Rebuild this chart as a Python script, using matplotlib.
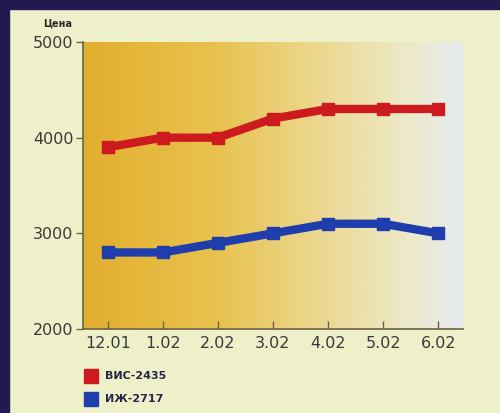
import numpy as np
import matplotlib
matplotlib.use("Agg")
import matplotlib.pyplot as plt
from matplotlib.colors import LinearSegmentedColormap
from matplotlib.patches import Rectangle

# данные: цена по месяцам
months = ["12.01", "1.02", "2.02", "3.02", "4.02", "5.02", "6.02"]
vis_2435 = [3900, 4000, 4000, 4200, 4300, 4300, 4300]
izh_2717 = [2800, 2800, 2900, 3000, 3100, 3100, 3000]
series_names = ["ВИС-2435", "ИЖ-2717"]

RED = "#cc1a1e"
BLUE = "#1f3dac"
NAVY = "#21194f"
PANEL = "#eef0c9"
TEXT = "#3a3a3a"

plt.rcParams["font.family"] = ["DejaVu Sans"]

fig = plt.figure(figsize=(5.0, 4.13), dpi=100)
fig.patch.set_facecolor(PANEL)

# тёмная рамка сверху и слева
fig.add_artist(Rectangle((0, 1 - 9 / 413), 1, 9 / 413, transform=fig.transFigure,
                         color=NAVY, zorder=0))
fig.add_artist(Rectangle((0, 0), 9 / 500, 1, transform=fig.transFigure,
                         color=NAVY, zorder=0))

ax = fig.add_axes([83 / 500, 1 - 329 / 413, 380 / 500, 287 / 413])
ax.set_facecolor(PANEL)

x = np.arange(len(months))
ax.set_xlim(-0.45, len(months) - 0.55)
ax.set_ylim(2000, 5000)

# градиентная заливка области графика
grad = LinearSegmentedColormap.from_list(
    "fon", [(0.0, "#e2ae2e"), (0.35, "#e8c24e"), (0.65, "#ecda96"),
            (0.85, "#ece9c8"), (1.0, "#e6ebef")])
ax.imshow(np.linspace(0, 1, 256).reshape(1, -1), cmap=grad, aspect="auto",
          extent=(-0.45, len(months) - 0.55, 2000, 5000), zorder=0)

ax.plot(x, vis_2435, color=RED, lw=6, marker="s", ms=8.5,
        solid_joinstyle="miter", zorder=3)
ax.plot(x, izh_2717, color=BLUE, lw=6, marker="s", ms=8.5,
        solid_joinstyle="miter", zorder=3)

ax.set_xticks(x)
ax.set_xticklabels(months)
ax.set_yticks([2000, 3000, 4000, 5000])

for side in ("top", "right"):
    ax.spines[side].set_visible(False)
for side in ("left", "bottom"):
    ax.spines[side].set_color("#6a6244")
    ax.spines[side].set_linewidth(1.2)

ax.tick_params(axis="y", direction="out", length=5, width=1, color="#6a6244",
               labelsize=11.5, labelcolor=TEXT, pad=2)
ax.tick_params(axis="x", direction="in", length=6, width=1, color="#6a6244",
               labelsize=11.5, labelcolor=TEXT, pad=5)

fig.text(43 / 500, 1 - 24 / 413, "Цена", fontsize=7, fontweight="bold",
         color="#2a2a2a", va="center", ha="left")

# легенда
for i, (name, col) in enumerate(zip(series_names, [RED, BLUE])):
    yc = 1 - (376 + i * 23) / 413
    fig.add_artist(Rectangle((84 / 500, yc - 7 / 413), 14 / 500, 14 / 413,
                             transform=fig.transFigure, color=col))
    fig.text(105 / 500, yc, name, fontsize=8, fontweight="bold",
             color="#28244a", va="center", ha="left")

fig.savefig("out.png", dpi=100, facecolor=fig.get_facecolor())
